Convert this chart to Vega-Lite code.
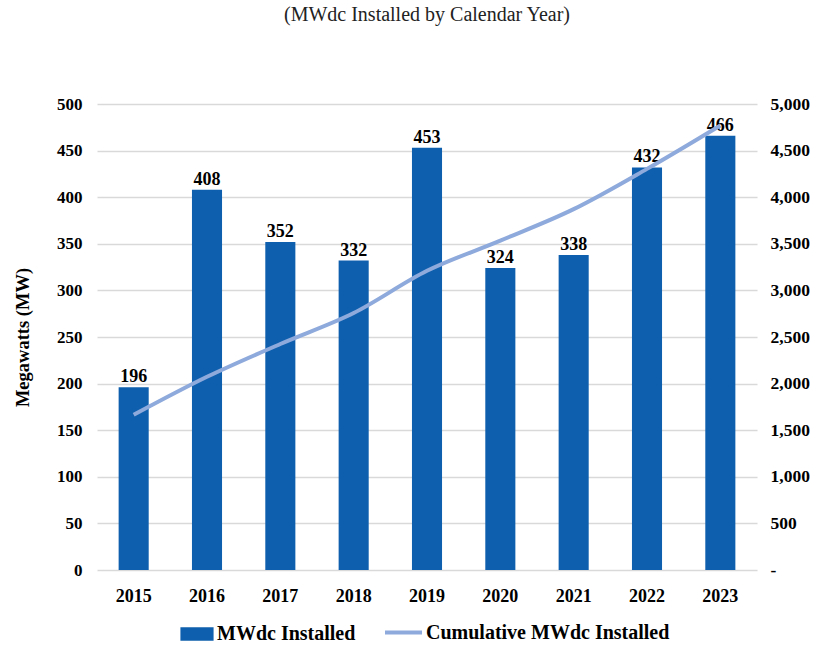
{
  "$schema": "https://vega.github.io/schema/vega-lite/v6.json",
  "width": 660,
  "height": 466,
  "autosize": "none",
  "padding": {"left": 97, "top": 104, "right": 70, "bottom": 76},
  "background": "white",
  "title": {"text": "(MWdc Installed by Calendar Year)", "font": "Liberation Serif", "fontSize": 20, "fontWeight": "normal", "color": "#222222", "offset": 70, "anchor": "middle"},
  "config": {"view": {"stroke": null}, "font": "Liberation Serif"},
  "data": {"values": [
    {"year": "2015", "mw": 196, "cum": 1665},
    {"year": "2016", "mw": 408, "cum": 2073},
    {"year": "2017", "mw": 352, "cum": 2425},
    {"year": "2018", "mw": 332, "cum": 2757},
    {"year": "2019", "mw": 453, "cum": 3210},
    {"year": "2020", "mw": 324, "cum": 3534},
    {"year": "2021", "mw": 338, "cum": 3872},
    {"year": "2022", "mw": 432, "cum": 4304},
    {"year": "2023", "mw": 466, "cum": 4770}
  ]},
  "encoding": {
    "x": {"field": "year", "type": "ordinal", "scale": {"paddingInner": 0.59, "paddingOuter": 0.295},
      "axis": {"title": null, "labelAngle": 0, "labelFont": "Liberation Serif", "labelFontSize": 18, "labelFontWeight": "bold", "labelColor": "#000000", "labelPadding": 17, "ticks": false, "domain": false}}
  },
  "layer": [
    {
      "encoding": {
        "y": {"field": "mw", "type": "quantitative", "scale": {"domain": [0, 500]},
          "axis": {"values": [0, 50, 100, 150, 200, 250, 300, 350, 400, 450, 500], "title": "Megawatts (MW)", "titleFont": "Liberation Serif", "titleFontSize": 18.5, "titleFontWeight": "bold", "titleColor": "#000000", "titlePadding": 24,
            "labelFont": "Liberation Serif", "labelFontSize": 17, "labelFontWeight": "bold", "labelColor": "#000000", "labelPadding": 15,
            "ticks": false, "domain": false, "grid": true, "gridColor": "#d9d9d9", "gridWidth": 1.5}}
      },
      "layer": [
        {"mark": {"type": "bar", "color": "#0E5FAD"},
          "encoding": {"fill": {"datum": "MWdc Installed", "type": "nominal", "scale": {"domain": ["MWdc Installed"], "range": ["#0E5FAD"]},
            "legend": {"title": null, "orient": "none", "legendX": 83, "legendY": 513, "symbolType": "M-1,-0.4H1V0.4H-1Z", "symbolSize": 1100, "symbolStrokeWidth": 0, "labelFont": "Liberation Serif", "labelFontSize": 20, "labelFontWeight": "bold", "labelColor": "#000000", "labelOffset": 3, "labelLimit": 400}}}},
        {"mark": {"type": "text", "baseline": "bottom", "dy": -1, "font": "Liberation Serif", "fontSize": 18, "fontWeight": "bold", "color": "#000000"},
          "encoding": {"text": {"field": "mw", "type": "quantitative"}}}
      ]
    },
    {
      "mark": {"type": "line", "strokeWidth": 4, "interpolate": "monotone"},
      "encoding": {
        "y": {"field": "cum", "type": "quantitative", "scale": {"domain": [0, 5000]},
          "axis": {"orient": "right", "values": [0, 500, 1000, 1500, 2000, 2500, 3000, 3500, 4000, 4500, 5000], "labelExpr": "datum.value == 0 ? '-' : format(datum.value, ',')", "title": null, "grid": false, "ticks": false, "domain": false,
            "labelFont": "Liberation Serif", "labelFontSize": 17.5, "labelFontWeight": "bold", "labelColor": "#000000", "labelPadding": 13, "labelAlign": "left"}},
        "stroke": {"datum": "Cumulative MWdc Installed", "type": "nominal", "scale": {"domain": ["Cumulative MWdc Installed"], "range": ["#8EA9DB"]},
          "legend": {"title": null, "orient": "none", "legendX": 286, "legendY": 508, "symbolType": "stroke", "symbolSize": 1369, "symbolStrokeWidth": 4, "labelFont": "Liberation Serif", "labelFontSize": 20, "labelFontWeight": "bold", "labelColor": "#000000", "labelOffset": 2, "labelLimit": 400}}
      }
    }
  ],
  "resolve": {"scale": {"y": "independent"}}
}
